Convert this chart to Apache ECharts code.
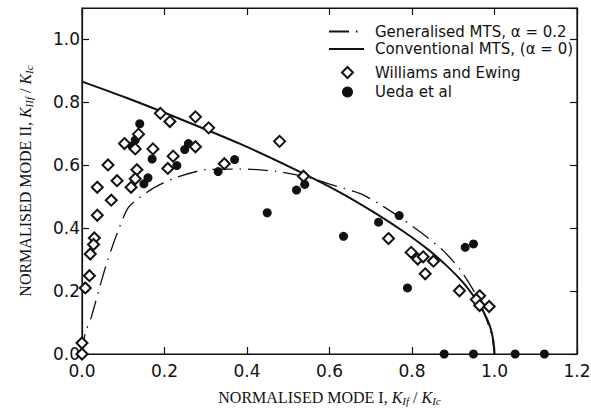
<!DOCTYPE html>
<html><head><meta charset="utf-8">
<script src="https://cdn.jsdelivr.net/npm/echarts@6/dist/echarts.min.js"></script>
<style>html,body{margin:0;padding:0;background:#fff}#c{width:591px;height:410px}</style>
</head><body><div id="c"></div>
<script>
// ---- data ----
const seriesNames = ['Generalised MTS, α = 0.2', 'Conventional MTS, (α = 0)', 'Williams and Ewing', 'Ueda et al'];
const xTickLabels = ['0.0', '0.2', '0.4', '0.6', '0.8', '1.0', '1.2'];
const yTickLabels = ['0.0', '0.2', '0.4', '0.6', '0.8', '1.0'];

const generalisedMTS = [
  [0, 0], [0.008, 0.068], [0.022, 0.115], [0.055, 0.268], [0.081, 0.369], [0.113, 0.467],
  [0.170, 0.525], [0.226, 0.560], [0.299, 0.586], [0.396, 0.588], [0.469, 0.581], [0.517, 0.570],
  [0.566, 0.555], [0.602, 0.539], [0.675, 0.510], [0.727, 0.472], [0.776, 0.430], [0.828, 0.380],
  [0.877, 0.327], [0.917, 0.268], [0.950, 0.200], [0.975, 0.130], [0.993, 0.060], [1.0, 0]
];
const conventionalMTS = [
  [0, 0.866], [0.109, 0.814], [0.223, 0.755], [0.385, 0.667], [0.516, 0.587], [0.624, 0.515],
  [0.711, 0.448], [0.782, 0.387], [0.840, 0.331], [0.887, 0.277], [0.924, 0.227], [0.952, 0.179],
  [0.974, 0.133], [0.989, 0.088], [0.997, 0.044], [1.0, 0]
];
const williamsEwing = [
  [0.190, 0.765], [0.213, 0.739], [0.275, 0.754], [0.307, 0.719], [0.137, 0.699], [0.103, 0.669],
  [0.129, 0.652], [0.172, 0.652], [0.221, 0.629], [0.275, 0.659], [0.208, 0.590], [0.063, 0.601],
  [0.133, 0.586], [0.085, 0.551], [0.129, 0.557], [0.037, 0.530], [0.119, 0.530], [0.071, 0.489],
  [0.037, 0.441], [0.030, 0.369], [0.028, 0.348], [0.020, 0.318], [0.018, 0.249], [0.008, 0.210],
  [0.0, 0.035], [0.0, 0.0], [0.479, 0.676], [0.345, 0.605], [0.537, 0.565], [0.743, 0.367],
  [0.798, 0.323], [0.814, 0.302], [0.827, 0.309], [0.852, 0.295], [0.832, 0.255], [0.915, 0.201],
  [0.964, 0.185], [0.956, 0.173], [0.964, 0.154], [0.987, 0.151]
];
const uedaEtAl = [
  [0.140, 0.732], [0.129, 0.680], [0.121, 0.661], [0.170, 0.620], [0.258, 0.669], [0.249, 0.650],
  [0.230, 0.599], [0.160, 0.560], [0.150, 0.541], [0.370, 0.618], [0.330, 0.580], [0.540, 0.539],
  [0.520, 0.521], [0.449, 0.449], [0.634, 0.374], [0.719, 0.419], [0.769, 0.440], [0.789, 0.210],
  [0.929, 0.339], [0.949, 0.350], [0.878, 0], [0.949, 0], [1.050, 0], [1.121, 0]
];

// ---- chart ----
const chart = echarts.init(document.getElementById('c'), null, { renderer: 'svg' });
const SANS = 'DejaVu Sans';
const SERIF = 'Liberation Serif';
const mkLine = () => ({ show: true, onZero: false, lineStyle: { color: '#111', width: 1.2 } });
const mkTick = () => ({ show: true, inside: true, length: 7, lineStyle: { color: '#111', width: 1.2 } });
const nameRich = {
  k: { fontFamily: SERIF, fontStyle: 'italic', fontSize: 16, lineHeight: 18, color: '#111' },
  s: { fontFamily: SERIF, fontStyle: 'italic', fontSize: 11, lineHeight: 11, padding: [7, 0, 0, 0], color: '#111' }
};
const idx = v => Math.round(v / 0.2);
const legendText = { fontFamily: SANS, fontSize: 15, color: '#111', lineHeight: 14 };
const gridBox = { left: 82, right: 14, top: 8, bottom: 56, containLabel: false, outerBoundsMode: 'none' };

chart.setOption({
  animation: false,
  backgroundColor: '#fff',
  grid: [
    Object.assign({ show: true, borderColor: '#111', borderWidth: 1.2, backgroundColor: 'transparent' }, gridBox),
    Object.assign({}, gridBox)
  ],
  legend: [{
    orient: 'vertical', left: 323, top: 19, itemWidth: 35, itemHeight: 10, itemGap: 2.5,
    data: [
      { name: seriesNames[0], itemStyle: { opacity: 0 } },
      { name: seriesNames[1], itemStyle: { opacity: 0 } }
    ],
    textStyle: Object.assign({ padding: [0, 0, 0, 6] }, legendText), selectedMode: false
  }, {
    orient: 'vertical', left: 336, top: 60, itemWidth: 11, itemHeight: 11, itemGap: 4.5,
    data: [{ name: seriesNames[2] }, { name: seriesNames[3] }],
    textStyle: Object.assign({ padding: [0, 0, 0, 17] }, legendText), selectedMode: false
  }],
  xAxis: [{
    type: 'value', gridIndex: 0, position: 'bottom', min: 0, max: 1.2, interval: 0.2,
    axisLine: mkLine(), axisTick: mkTick(), splitLine: { show: false },
    axisLabel: { margin: 8, fontFamily: SANS, fontSize: 17, color: '#111', formatter: v => xTickLabels[idx(v)] },
    name: 'NORMALISED MODE I, {k|K}{s|If} / {k|K}{s|Ic}',
    nameLocation: 'middle', nameGap: 34,
    nameTextStyle: { fontFamily: SERIF, fontSize: 16, lineHeight: 18, color: '#111', rich: nameRich }
  }, {
    type: 'value', gridIndex: 1, position: 'top', min: 0, max: 1.2, interval: 0.2,
    axisLine: mkLine(), axisTick: mkTick(), splitLine: { show: false }, axisLabel: { show: false }
  }],
  yAxis: [{
    type: 'value', gridIndex: 0, position: 'left', min: 0, max: 1.1, interval: 0.2,
    axisLine: mkLine(), axisTick: mkTick(), splitLine: { show: false },
    axisLabel: { margin: 2, showMaxLabel: false, fontFamily: SANS, fontSize: 17, color: '#111', formatter: v => yTickLabels[idx(v)] },
    name: 'NORMALISED MODE II, {k|K}{s|IIf} / {k|K}{s|Ic}',
    nameLocation: 'middle', nameGap: 48,
    nameTextStyle: { fontFamily: SERIF, fontSize: 16, lineHeight: 18, color: '#111', rich: nameRich }
  }, {
    type: 'value', gridIndex: 1, position: 'right', min: 0, max: 1.1, interval: 0.2,
    axisLine: mkLine(), axisTick: mkTick(), splitLine: { show: false }, axisLabel: { show: false }
  }],
  series: [{
    name: seriesNames[0], type: 'line', data: generalisedMTS, symbol: 'none', showSymbol: false, smooth: 0.2, z: 2,
    xAxisIndex: 1, yAxisIndex: 1,
    lineStyle: { color: '#111', width: 1.3, type: [20, 7, 1.5, 7] }, itemStyle: { color: '#111' }
  }, {
    name: seriesNames[1], type: 'line', data: conventionalMTS, symbol: 'none', showSymbol: false, smooth: 0.3, z: 2,
    lineStyle: { color: '#111', width: 2 }, itemStyle: { color: '#111' }
  }, {
    name: seriesNames[2], type: 'scatter', data: williamsEwing, symbol: 'diamond', symbolSize: 11, z: 4,
    itemStyle: { color: '#fff', borderColor: '#111', borderWidth: 2, opacity: 1 }
  }, {
    name: seriesNames[3], type: 'scatter', data: uedaEtAl, symbol: 'circle', symbolSize: 9, z: 3,
    itemStyle: { color: '#111', opacity: 1 }
  }]
});
</script>
</body></html>
